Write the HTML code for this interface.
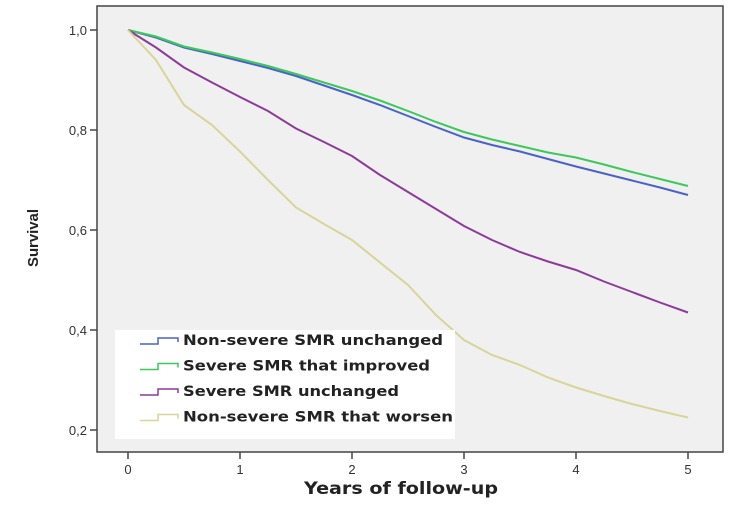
<!DOCTYPE html>
<html><head><meta charset="utf-8"><style>
body{margin:0;background:#fff;}
svg text{font-family:"Liberation Sans",Arial,sans-serif;}
svg text.w{font-family:"DejaVu Sans","Liberation Sans",sans-serif;}
</style></head><body>
<svg width="750" height="500" viewBox="0 0 750 500">
<rect x="97" y="6" width="626" height="446" fill="#f0f0f0" stroke="#444" stroke-width="1.5"/>
<g id="axes"></g>
<g id="series"></g>
<text x="38" y="238" font-size="15" font-weight="bold" fill="#222" transform="rotate(-90 38 238)" text-anchor="middle" textLength="58" lengthAdjust="spacingAndGlyphs">Survival</text>
<text class="w" x="401" y="494" font-size="17" font-weight="bold" fill="#222" text-anchor="middle" textLength="194" lengthAdjust="spacingAndGlyphs">Years of follow-up</text>
<g>
<rect x="115" y="330" width="340" height="109" fill="#fff"/>
<g id="legend"></g>
</g>
</svg>
<script>
const times=[0,0.25,0.5,0.75,1,1.25,1.5,1.75,2,2.25,2.5,2.75,3,3.25,3.5,3.75,4,4.25,4.5,4.75,5];
const blueVals=[1,0.985,0.965,0.952,0.938,0.924,0.908,0.889,0.87,0.85,0.828,0.806,0.785,0.77,0.757,0.742,0.727,0.713,0.699,0.685,0.67];
const greenVals=[1,0.987,0.967,0.955,0.942,0.928,0.912,0.895,0.878,0.859,0.838,0.816,0.796,0.781,0.768,0.755,0.745,0.731,0.716,0.702,0.688];
const purpleVals=[1,0.965,0.925,0.895,0.866,0.838,0.803,0.776,0.748,0.71,0.676,0.642,0.608,0.58,0.556,0.537,0.52,0.497,0.476,0.455,0.435];
const yellowVals=[1,0.94,0.85,0.81,0.757,0.70,0.645,0.612,0.58,0.535,0.49,0.43,0.38,0.35,0.33,0.305,0.285,0.268,0.252,0.238,0.225];
const seriesNames=["Non-severe SMR unchanged","Severe SMR that improved","Severe SMR unchanged","Non-severe SMR that worsen"];
const legendWidths=[260,247,216,270];
const xTicks=[0,1,2,3,4,5];
const yTicks=[0.2,0.4,0.6,0.8,1.0];
const yTickLabels=["0,2","0,4","0,6","0,8","1,0"];
const colors=["#4a62c8","#3cc85a","#8e3a9a","#d8d49a"];
const NS="http://www.w3.org/2000/svg";
const xs=t=>128+t*112;
const ys=v=>30+(1-v)*500;
function mk(tag,attrs,parent){const e=document.createElementNS(NS,tag);for(const k in attrs)e.setAttribute(k,attrs[k]);parent.appendChild(e);return e;}
const ax=document.getElementById('axes');
xTicks.forEach(t=>{
  const l=mk('line',{x1:xs(t),x2:xs(t),y1:452,y2:459,stroke:'#444','stroke-width':1.5},ax);
  
  
  const tx=mk('text',{x:xs(t),y:474,'font-size':13,'text-anchor':'middle',fill:'#333'},ax);
  tx.textContent=t;
  
  
});
yTicks.forEach((v,i)=>{
  const l=mk('line',{x1:90,x2:97,y1:ys(v),y2:ys(v),stroke:'#444','stroke-width':1.5},ax);
  
  
  const tx=mk('text',{x:87,y:ys(v)+5,'font-size':13,'text-anchor':'end',fill:'#333'},ax);
  tx.textContent=yTickLabels[i];
  
  
});
const sg=document.getElementById('series');
[blueVals,greenVals,purpleVals,yellowVals].forEach((vals,i)=>{
  const pts=vals.map((v,j)=>xs(times[j])+','+ys(v)).join(' ');
  const p=mk('polyline',{points:pts,fill:'none',stroke:colors[i],'stroke-width':2},sg);
  
  
});
const lg=document.getElementById('legend');
seriesNames.forEach((n,i)=>{
  const y=344+i*25.5;
  const p=mk('polyline',{points:`140,${y} 158,${y} 158,${y-6} 178,${y-6} 178,${y-2}`,fill:'none',stroke:colors[i],'stroke-width':1.5},lg);
  
  
  const t=mk('text',{class:'w',x:183,y:y+1,'font-size':14,'font-weight':'bold',fill:'#222',textLength:legendWidths[i],lengthAdjust:'spacingAndGlyphs'},lg);
  t.textContent=n;
  
  
});
</script>
</body></html>
